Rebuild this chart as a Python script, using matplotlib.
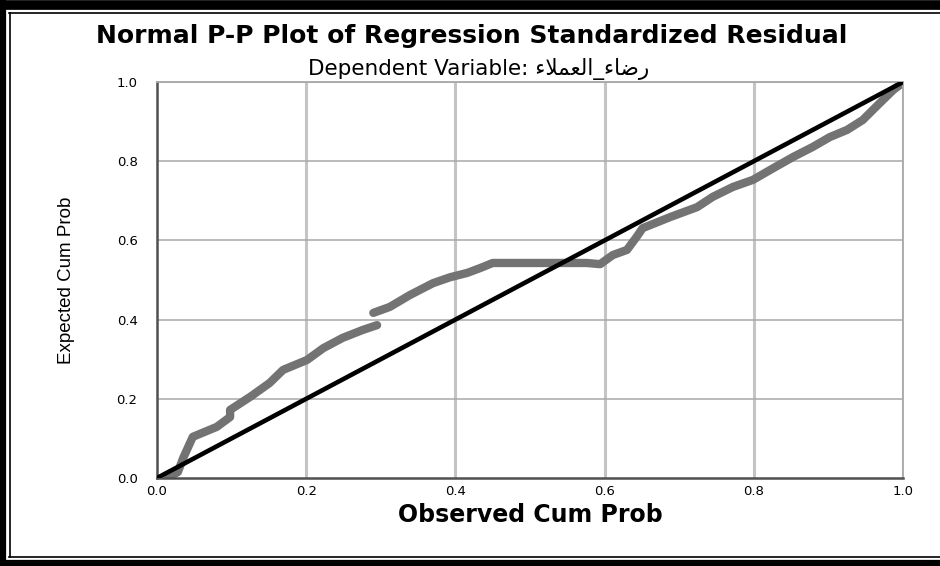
import matplotlib
matplotlib.use("Agg")
import matplotlib.pyplot as plt
from matplotlib.lines import Line2D

# points (observed, expected cum prob)
obs_1 = [0.015, 0.028, 0.035, 0.048, 0.080, 0.098, 0.098, 0.125, 0.151,
         0.169, 0.201, 0.223, 0.249, 0.276, 0.295]
exp_1 = [0.002, 0.015, 0.050, 0.104, 0.129, 0.154, 0.172, 0.205, 0.240,
         0.273, 0.298, 0.328, 0.354, 0.374, 0.386]

obs_2 = [0.290, 0.312, 0.339, 0.370, 0.393, 0.416, 0.433, 0.450, 0.576,
         0.594, 0.611, 0.630, 0.643, 0.651, 0.688, 0.724, 0.745, 0.772,
         0.799, 0.822, 0.853, 0.879, 0.902, 0.925, 0.946, 0.969, 0.987, 0.999]
exp_2 = [0.417, 0.432, 0.462, 0.492, 0.507, 0.518, 0.530, 0.543, 0.543,
         0.540, 0.563, 0.576, 0.609, 0.631, 0.659, 0.684, 0.710, 0.735,
         0.753, 0.778, 0.811, 0.836, 0.861, 0.879, 0.904, 0.947, 0.980, 0.997]

ticks = [0.0, 0.2, 0.4, 0.6, 0.8, 1.0]
tick_labels = ["0.0", "0.2", "0.4", "0.6", "0.8", "1.0"]

title = "Normal P-P Plot of Regression Standardized Residual"
# Arabic written in visual order with presentation forms (matplotlib does no shaping)
subtitle = "Dependent Variable: " + "\uFE80\uFEFC\uFEE4\uFECC\uFEDF\uFE8D_\uFE80\uFE8E\uFEBF\uFEAD"

fig = plt.figure(figsize=(9.4, 5.66), dpi=100)
fig.patch.set_facecolor("white")
ax = fig.add_axes([157 / 940, 1 - 478 / 566, 746 / 940, 396 / 566])

ax.set_xlim(0, 1)
ax.set_ylim(0, 1)

# grid
for t in ticks[1:]:
    ax.axvline(t, color="#c4c4c4", lw=2.2, zorder=1)
for t in ticks[1:]:
    ax.axhline(t, color="#a8a8a8", lw=1.1, zorder=1)

for side in ["top", "right"]:
    ax.spines[side].set_color("#a8a8a8")
    ax.spines[side].set_linewidth(1.3)
for side in ["left", "bottom"]:
    ax.spines[side].set_color("#505050")
    ax.spines[side].set_linewidth(1.8)

pt_kw = dict(color="#737373", lw=6.0, solid_capstyle="round",
             solid_joinstyle="round", zorder=2)
ax.plot(obs_1, exp_1, **pt_kw)
ax.plot(obs_2, exp_2, **pt_kw)

ax.plot([0, 1], [0, 1], color="black", lw=3.3, zorder=3)

ax.set_xticks(ticks)
ax.set_yticks(ticks)
ax.set_xticklabels(tick_labels, fontsize=9.5, family="DejaVu Sans")
ax.set_yticklabels(tick_labels, fontsize=9.5, family="DejaVu Sans")
ax.tick_params(axis="x", length=0, pad=5)
ax.tick_params(axis="y", length=0, pad=14)

ax.set_xlabel("Observed Cum Prob", fontsize=17, fontweight="bold",
              family="DejaVu Sans", labelpad=4)
ax.set_ylabel("Expected Cum Prob", fontsize=13.5,
              family=["Liberation Sans Narrow", "Liberation Sans", "DejaVu Sans"],
              labelpad=30)

fig.text(472 / 940, 1 - 36 / 566, title, ha="center", va="center",
         fontsize=18, fontweight="bold", family="DejaVu Sans")
fig.text(479 / 940, 1 - 69 / 566, subtitle, ha="center", va="center",
         fontsize=15.5, family="DejaVu Sans")

# double frame around the picture
W, H = 940, 566
def hline(y, lw, x0=0, x1=W):
    fig.add_artist(Line2D([x0 / W, x1 / W], [1 - y / H, 1 - y / H],
                          color="black", lw=lw, transform=fig.transFigure))
def vline(x, lw, y0=0, y1=H):
    fig.add_artist(Line2D([x / W, x / W], [1 - y0 / H, 1 - y1 / H],
                          color="black", lw=lw, transform=fig.transFigure))

hline(4.5, 7)
hline(12.5, 1.2, 9, W)
vline(3, 4.5)
vline(9.5, 1.2, 12.5, 557)
hline(557, 1.2, 9, W)
hline(563, 4.5)

fig.savefig("out.png", dpi=100, facecolor="white")
